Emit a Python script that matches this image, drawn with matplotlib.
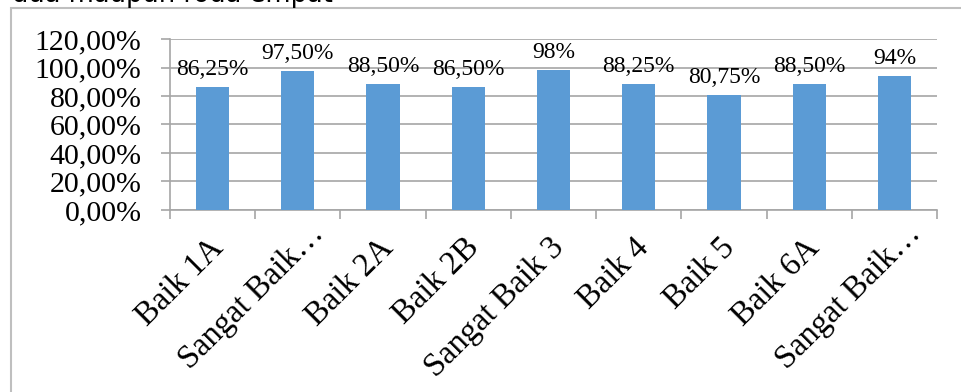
import matplotlib.pyplot as plt
import matplotlib.patches as patches
import matplotlib.transforms as mtransforms
import numpy as np

# categories and scores
categories = ['Baik 1A', 'Sangat Baik…', 'Baik 2A', 'Baik 2B', 'Sangat Baik 3',
              'Baik 4', 'Baik 5', 'Baik 6A', 'Sangat Baik…']
scores = [86.25, 97.50, 88.50, 86.50, 98.0, 88.25, 80.75, 88.50, 94.0]
score_labels = ['86,25%', '97,50%', '88,50%', '86,50%', '98%',
                '88,25%', '80,75%', '88,50%', '94%']
yticks = [0, 20, 40, 60, 80, 100, 120]
ytick_labels = ['0,00%', '20,00%', '40,00%', '60,00%', '80,00%', '100,00%', '120,00%']

plt.rcParams['font.family'] = ['Liberation Serif', 'DejaVu Serif']

fig = plt.figure(figsize=(9.61, 3.92), dpi=100)
ax = fig.add_axes([0.1769, 0.4643, 0.975 - 0.1769, 0.9005 - 0.4643])

grid_col = '#A6A6A6'
x = np.arange(len(categories))
ax.bar(x, scores, width=0.39, color='#5B9BD5', zorder=3)

for xi, v, lab in zip(x, scores, score_labels):
    ax.annotate(lab, (xi, v), xytext=(0, 12), textcoords='offset pixels',
                ha='center', va='baseline', fontsize=17, zorder=4)

ax.set_xlim(-0.5, len(categories) - 0.5)
ax.set_ylim(0, 120)
ax.set_yticks(yticks)
ax.set_yticklabels(ytick_labels, fontsize=21.5)
ax.yaxis.grid(True, color=grid_col, linewidth=1.2, zorder=0)

# category labels sit under each bar, ticks mark the boundaries
ax.set_xticks(x)
ax.set_xticklabels(categories, rotation=45, ha='right', rotation_mode='anchor',
                   fontsize=23.5)
ax.tick_params(axis='x', length=0, pad=14)
for t in ax.get_xticklabels():
    # truncated labels hang their ellipsis past the tick
    dx, dy = (11, 11) if t.get_text().endswith('…') else (-5, -3)
    nudge = mtransforms.ScaledTranslation(dx / 100, dy / 100, fig.dpi_scale_trans)
    t.set_transform(t.get_transform() + nudge)
ax.set_xticks(np.arange(len(categories) + 1) - 0.5, minor=True)
ax.tick_params(axis='x', which='minor', length=6.5, color=grid_col, width=1.2)
ax.tick_params(axis='y', length=6.5, color=grid_col, width=1.2, pad=14)

for s in ['top', 'right']:
    ax.spines[s].set_visible(False)
for s in ['left', 'bottom']:
    ax.spines[s].set_color(grid_col)
    ax.spines[s].set_linewidth(1.2)

# outer chart border
fig.add_artist(patches.Rectangle((0.0114, -0.05), 1.2, 0.9796 + 0.05,
                                 transform=fig.transFigure, fill=False,
                                 edgecolor='#BFBFBF', linewidth=1.5))

# heading text running above the chart
fig.text(0.012, 1.012, 'dua maupun roda empat', fontsize=18.5,
         family=['DejaVu Sans'], ha='left', va='center')

fig.savefig('out.png', dpi=100)
